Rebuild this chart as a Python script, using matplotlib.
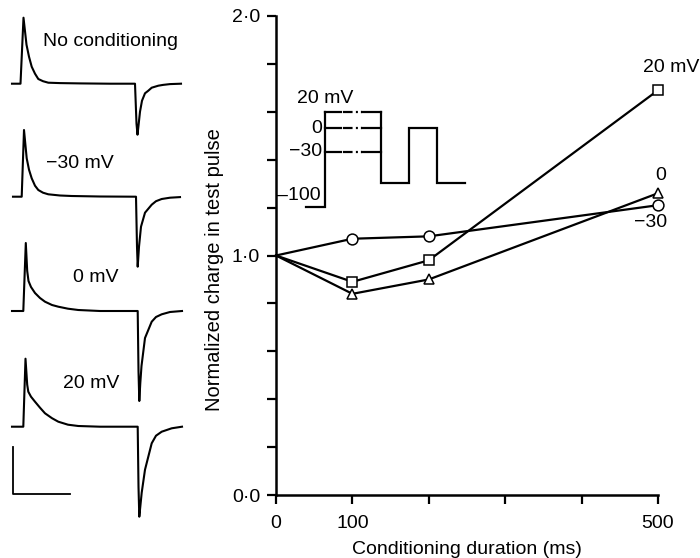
import numpy as np
import matplotlib
matplotlib.use("Agg")
import matplotlib.pyplot as plt

plt.rcParams['font.family'] = ['Liberation Sans', 'DejaVu Sans']
plt.rcParams['font.size'] = 14

# --- main plot data: normalized charge in test pulse vs conditioning duration
duration = [0, 100, 200, 500]
charge_m30 = [1.0, 1.07, 1.08, 1.21]   # circles, -30 mV
charge_20 = [1.0, 0.89, 0.98, 1.69]    # squares, 20 mV
charge_0 = [1.0, 0.84, 0.90, 1.26]     # triangles, 0 mV

# --- example current traces (time, current relative to baseline)
trace_names = ["No conditioning", "\u221230 mV", "0 mV", "20 mV"]
trace_t = [
    [12, 20.5, 23.5, 26.5, 29, 31.7, 35, 38.3, 43, 48.3, 60, 80, 110, 135,
     136.5, 137.5, 138.5, 140, 142, 145, 148.3, 151.7, 158.3, 163, 170, 181],
    [13, 21.7, 24, 26.7, 29, 31.7, 35, 38.3, 43, 48.3, 60, 71.7, 100, 136,
     137, 137.7, 139, 141, 145, 151.7, 156, 161.7, 170, 180],
    [12, 23.3, 25.8, 27.2, 28.5, 31, 35, 40, 45, 52, 58.3, 68, 78.3, 100,
     137.7, 138.5, 139.3, 140.3, 141.5, 145, 151.7, 156, 161.7, 170, 182],
    [12, 23.3, 25.5, 27.2, 28.3, 31, 35, 40, 45, 52, 58.3, 68, 78.3, 100,
     137.7, 138.5, 139.3, 140.3, 141.7, 145, 151.7, 156, 161.7, 171.7, 182],
]
trace_i = [
    [0, 0, 66, 39, 27, 17, 10, 4.7, 2.5, 1, 0.6, 0.3, 0, 0,
     -40, -51, -42, -28, -17, -9.6, -7, -4, -2, -1.2, -0.4, 0],
    [0, 0, 66.7, 38.4, 27, 18.4, 11, 6.7, 4, 2.4, 1.2, 0.7, 0.2, 0,
     -50, -70, -50, -30, -16, -8, -4.5, -2.3, -1, -0.4],
    [0, 0, 68, 40, 30, 24, 18, 13, 9.3, 6, 4.3, 2.3, 1, 0,
     0, -60, -90, -72, -55, -27, -10.7, -6, -3.3, -1, 0],
    [0, 0, 68, 42, 35, 30, 25, 19, 13.4, 8.5, 5, 2, 0.7, 0,
     0, -60, -90, -80, -66, -43, -16.6, -9, -5, -1.6, 0],
]
trace_offsets = [474.3, 361.3, 247, 131.3]
trace_label_pos = [(43, 517), (46, 394), (73, 281), (63, 175)]

# --- voltage protocol inset
cond_levels = [20, 0, -30]
cond_labels = ["0", "\u221230"]
hold_t = [0, 1, 1]
hold_v = [-100, -100, 20]
step_t = [4, 4, 5.5, 5.5, 7, 7, 8.5]
step_v = [20, -70, -70, 0, 0, -70, -70]

W, H = 700, 558
fig = plt.figure(figsize=(7.0, 5.58), dpi=100)

# ---------------- main axes
ax = fig.add_axes([276 / W, 63 / H, 382 / W, 479 / H])
mk = dict(color='black', lw=1.6, mfc='white', mec='black', mew=1.1,
          markevery=[1, 2, 3], clip_on=False, zorder=3)
ax.plot(duration, charge_m30, '-', marker='o', ms=7.8, **mk)
ax.plot(duration, charge_20, '-', marker='s', ms=7.4, **mk)
ax.plot(duration, charge_0, '-', marker='^', ms=7.2, **mk)
ax.set_xlim(0, 500)
ax.set_ylim(0, 2)
ax.spines['top'].set_visible(False)
ax.spines['right'].set_visible(False)
for s in ['left', 'bottom']:
    ax.spines[s].set_linewidth(1.8)
ax.set_xticks(np.arange(0, 501, 100))
ax.set_xticklabels(['0', '100', '', '', '', '500'])
ax.set_yticks(np.round(np.arange(0, 2.01, 0.2), 1))
ax.set_yticklabels(['0\u00b70', '', '', '', '', '1\u00b70', '', '', '', '', '2\u00b70'])
ax.tick_params(axis='both', direction='out', length=6.5, width=1.6, labelsize=14)
ax.tick_params(axis='y', pad=5)
ax.tick_params(axis='x', pad=8)

ax.text(517, 1.783, "20 mV", ha='center', va='center')
ax.text(503, 1.336, "0", ha='center', va='center')
ax.text(490, 1.136, "\u221230", ha='center', va='center')

fig.text(215 / W, 1 - 270 / H, "Normalized charge in test pulse", rotation=90,
         ha='center', va='center', fontsize=14.5)
fig.text(467 / W, 1 - 550 / H, "Conditioning duration (ms)",
         ha='center', va='center')

# ---------------- inset: voltage protocol
ins = fig.add_axes([290 / W, (H - 215) / H, 190 / W, 125 / H])
ins.set_xlim(-0.856, 9.305)
ins.set_ylim(-110.1, 48.1)
ins.axis('off')
ins.patch.set_alpha(0)
ins.plot(hold_t, hold_v, color='black', lw=1.6, solid_joinstyle='miter')
ins.plot(step_t, step_v, color='black', lw=1.6, solid_joinstyle='miter')
for v in cond_levels:
    ins.plot([1, 1.87], [v, v], color='black', lw=1.6)
    ins.plot([1.87, 2.99], [v, v], color='black', lw=1.6,
             linestyle=(7.3, (4.3, 1.5, 0.9, 1.5, 0.0, 0.0)), dash_capstyle='butt')
    ins.plot([2.99, 4], [v, v], color='black', lw=1.6)
ins.text(-0.5, 37.3, "20 mV", ha='left', va='center')
ins.text(0.84, 0, cond_labels[0], ha='right', va='center')
ins.text(0.88, -30, cond_labels[1], ha='right', va='center')
ins.text(0.78, -84.8, "\u2013100", ha='right', va='center')

# ---------------- left: current traces
lax = fig.add_axes([0, 0, 200 / W, 1])
lax.set_xlim(0, 200)
lax.set_ylim(0, H)
lax.axis('off')
for name, t, cur, off, pos in zip(trace_names, trace_t, trace_i, trace_offsets, trace_label_pos):
    lax.plot(t, np.array(cur) + off, color='black', lw=1.5)
    lax.text(pos[0], pos[1], name, ha='left', va='center')
# scale bar
lax.plot([13.3, 13.3, 70], [111.3, 63.7, 63.7], color='black', lw=1.3)

fig.savefig("out.png", dpi=100)
